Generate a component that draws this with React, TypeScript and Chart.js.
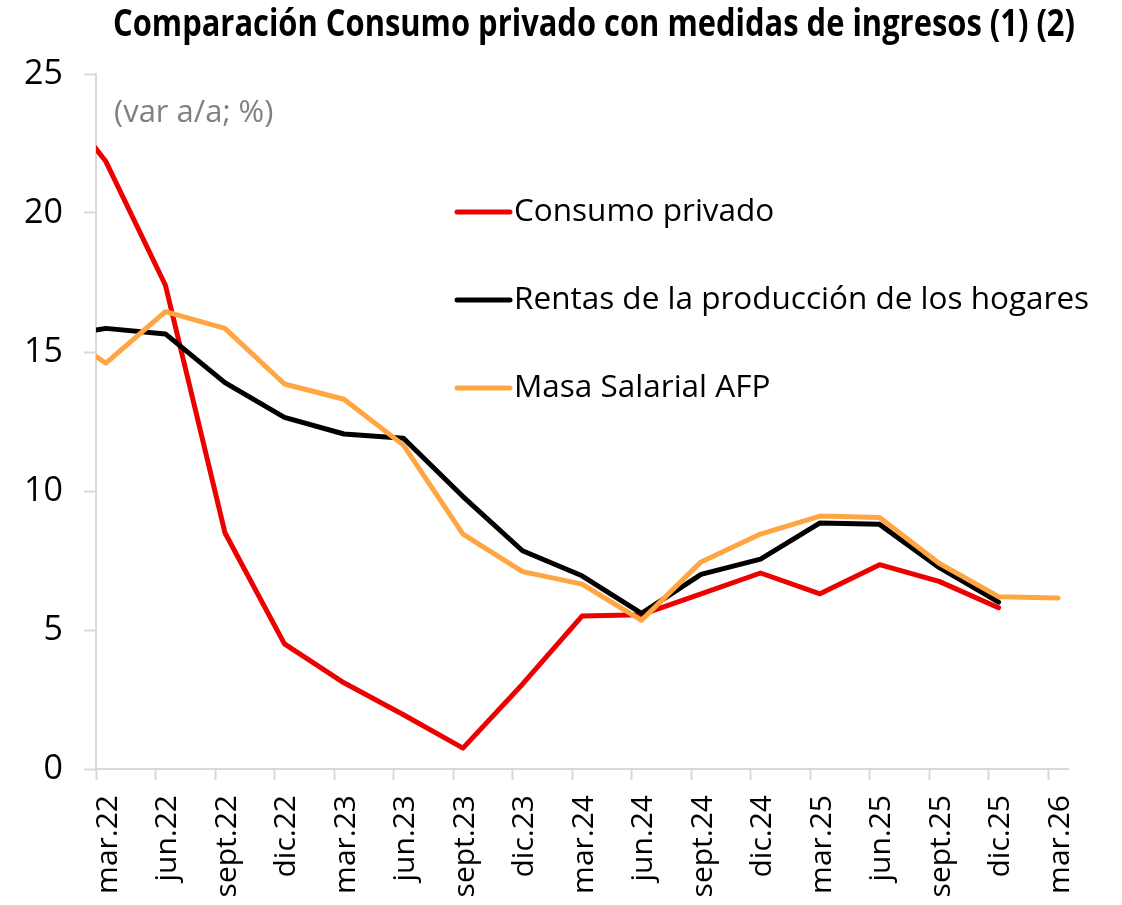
import React, { useEffect, useRef } from 'react';
import { Chart, registerables } from 'chart.js';

Chart.register(...registerables);

// ---- Data (quarterly, year-on-year % change) ----
const periods = [
  'dic.21', 'mar.22', 'jun.22', 'sept.22', 'dic.22', 'mar.23', 'jun.23', 'sept.23', 'dic.23',
  'mar.24', 'jun.24', 'sept.24', 'dic.24', 'mar.25', 'jun.25', 'sept.25', 'dic.25', 'mar.26',
];
const quarterLabels = periods.slice(1);
const consumoPrivado = [24.6, 21.85, 17.4, 8.5, 4.5, 3.1, 1.95, 0.75, 3.05, 5.5, 5.55, 6.3, 7.05, 6.3, 7.35, 6.75, 5.8, null];
const rentasHogares = [15.5, 15.85, 15.65, 13.9, 12.65, 12.05, 11.9, 9.8, 7.85, 6.95, 5.6, 7.0, 7.55, 8.85, 8.8, 7.25, 6.0, null];
const masaSalarial = [16.0, 14.6, 16.45, 15.85, 13.85, 13.3, 11.65, 8.45, 7.1, 6.65, 5.35, 7.45, 8.45, 9.1, 9.05, 7.4, 6.2, 6.15];
const seriesNames = ['Consumo privado', 'Rentas de la producción de los hogares', 'Masa Salarial AFP'];
const seriesColors = ['#EC0000', '#000000', '#FFA542'];
const yTickValues = [0, 5, 10, 15, 20, 25];
const titleText = 'Comparación Consumo privado con medidas de ingresos (1) (2)';
const unitText = '(var a/a; %)';

const MONTHS_PER_QUARTER = 3;
const toPoints = (vals: (number | null)[]) =>
  vals
    .map((v, i) => ({ x: (i - 1) * MONTHS_PER_QUARTER, y: v }))
    .filter((p) => p.y !== null);

const FONT = '"Open Sans", "Noto Sans", sans-serif';
const TITLE_FONT = '"Open Sans", "Noto Sans", sans-serif';
const AXIS_GRAY = '#D9D9D9';

const decorPlugin = {
  id: 'decor',
  afterDraw(chart: any) {
    const ctx = chart.ctx;
    ctx.save();
    // Title (condensed to the reference width)
    ctx.fillStyle = '#000';
    ctx.font = `bold 37px ${TITLE_FONT}`;
    ctx.textAlign = 'center';
    ctx.textBaseline = 'middle';
    ctx.fillText(titleText, 594, 25, 962);
    // Unit note
    ctx.fillStyle = '#808080';
    ctx.font = `31px ${FONT}`;
    ctx.textAlign = 'left';
    ctx.fillText(unitText, 114, 113);
    // Legend
    const rows = [212, 300, 388];
    seriesNames.forEach((name, i) => {
      const y = rows[i];
      ctx.strokeStyle = seriesColors[i];
      ctx.lineWidth = 5;
      ctx.lineCap = 'round';
      ctx.beginPath();
      ctx.moveTo(457, y);
      ctx.lineTo(510, y);
      ctx.stroke();
      ctx.fillStyle = '#000';
      ctx.font = `31.5px ${FONT}`;
      ctx.textAlign = 'left';
      ctx.textBaseline = 'middle';
      ctx.fillText(name, 514, y);
    });
    ctx.restore();
  },
};

export default function App() {
  const canvasRef = useRef<HTMLCanvasElement | null>(null);

  useEffect(() => {
    const canvas = canvasRef.current;
    if (!canvas) return;
    const seriesData = [consumoPrivado, rentasHogares, masaSalarial];
    const drawOrder = [2, 1, 0];
    const chart = new Chart(canvas, {
      type: 'line',
      data: {
        datasets: seriesNames.map((name, i) => ({
          label: name,
          data: toPoints(seriesData[i]) as any,
          borderColor: seriesColors[i],
          backgroundColor: seriesColors[i],
          borderWidth: 5,
          pointRadius: 0,
          tension: 0,
          borderJoinStyle: 'round' as const,
          borderCapStyle: 'round' as const,
          order: drawOrder[i],
          clip: { left: 0, top: false, right: false, bottom: false } as any,
        })),
      },
      options: {
        animation: false,
        responsive: false,
        maintainAspectRatio: false,
        layout: { padding: { top: 74, right: 54, left: 0, bottom: 0 } },
        plugins: {
          legend: { display: false },
          title: { display: false },
          tooltip: { enabled: false },
        },
        scales: {
          x: {
            type: 'linear',
            min: -0.5,
            max: (quarterLabels.length - 1) * MONTHS_PER_QUARTER + 0.5,
            afterBuildTicks: (scale: any) => {
              scale.ticks = quarterLabels.map((_, k) => ({ value: k * MONTHS_PER_QUARTER - 0.5 }));
            },
            afterFit: (scale: any) => {
              scale.height = 136;
            },
            grid: {
              display: true,
              drawOnChartArea: false,
              drawTicks: true,
              tickLength: 11,
              tickColor: AXIS_GRAY,
              tickWidth: 2,
            },
            border: { display: true, color: AXIS_GRAY, width: 2 },
            ticks: {
              autoSkip: false,
              maxRotation: 90,
              minRotation: 90,
              labelOffset: 12,
              padding: 15,
              color: '#000',
              font: { family: FONT, size: 30 },
              callback: (_v: any, index: number) => quarterLabels[index],
            },
          },
          y: {
            min: 0,
            max: 25,
            afterBuildTicks: (scale: any) => {
              scale.ticks = yTickValues.map((v) => ({ value: v }));
            },
            afterFit: (scale: any) => {
              scale.width = 96;
            },
            grid: {
              display: true,
              drawOnChartArea: false,
              drawTicks: true,
              tickLength: 12,
              tickColor: AXIS_GRAY,
              tickWidth: 2,
            },
            border: { display: true, color: AXIS_GRAY, width: 2 },
            ticks: {
              padding: 21,
              color: '#000',
              font: { family: FONT, size: 34 },
              callback: (v: any) => String(v),
            },
          },
        },
      },
      plugins: [decorPlugin],
    });
    return () => chart.destroy();
  }, []);

  return (
    <div style={{ position: 'fixed', left: 0, top: 0, width: 1122, height: 905, background: '#fff' }}>
      <canvas ref={canvasRef} width={1122} height={905} style={{ width: 1122, height: 905, display: 'block' }} />
    </div>
  );
}
